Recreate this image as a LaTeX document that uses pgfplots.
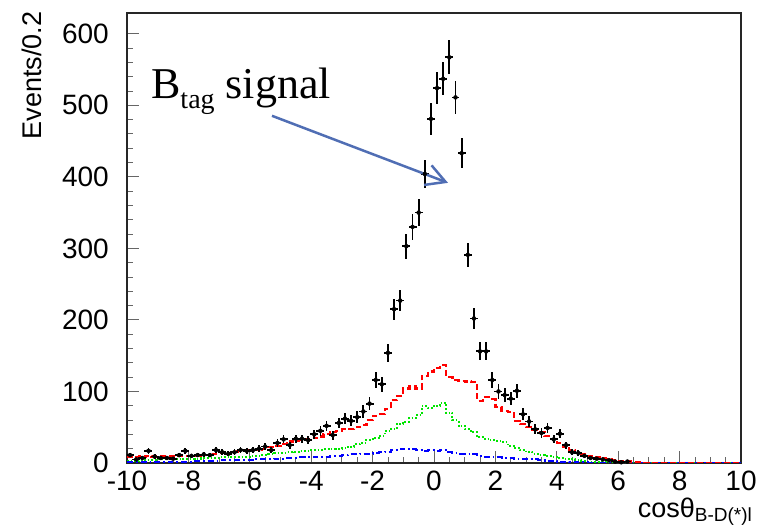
\documentclass[border=0pt]{standalone}
\usepackage{fontspec}
\setmainfont{Liberation Sans}
\newfontfamily\annfont{Liberation Serif}
\usepackage{pgfplots}
\pgfplotsset{compat=1.18}
\usepackage{pgfplotstable}
\usetikzlibrary{arrows.meta}
\definecolor{arrowblue}{RGB}{80,110,180}

\pgfplotstableread{
x y e
-9.9 11 3.3
-9.7 5 2.2
-9.5 7 2.6
-9.3 17 4.1
-9.1 9 3.0
-8.9 7 2.6
-8.7 7 2.6
-8.5 6 2.4
-8.3 11 3.3
-8.1 17 4.1
-7.9 10 3.2
-7.7 11 3.3
-7.5 12 3.5
-7.3 11 3.3
-7.1 18 4.2
-6.9 15 3.9
-6.7 13 3.6
-6.5 15 3.9
-6.3 18 4.2
-6.1 17 4.1
-5.9 18 4.2
-5.7 20 4.5
-5.5 23 4.8
-5.3 18 4.2
-5.1 28 5.3
-4.9 33 5.7
-4.7 25 5.0
-4.5 34 5.8
-4.3 34 5.8
-4.1 32 5.7
-3.9 40 6.3
-3.7 45 6.7
-3.5 52 7.2
-3.3 39 6.2
-3.1 56 7.5
-2.9 62 7.9
-2.7 59 7.7
-2.5 64 8.0
-2.3 72 8.5
-2.1 83 9.1
-1.9 116 10.8
-1.7 110 10.5
-1.5 154 12.4
-1.3 215 14.7
-1.1 227 15.1
-0.9 303 17.4
-0.7 330 18.2
-0.5 350 18.7
-0.3 404 20.1
-0.1 481 21.9
0.1 524 22.9
0.3 537 23.2
0.5 567 23.8
0.7 511 22.6
0.9 433 20.8
1.1 291 17.1
1.3 202 14.2
1.5 156 12.5
1.7 156 12.5
1.9 116 10.8
2.1 100 10.0
2.3 95 9.7
2.5 90 9.5
2.7 101 10.0
2.9 68 8.2
3.1 58 7.6
3.3 47 6.9
3.5 42 6.5
3.7 49 7.0
3.9 33 5.7
4.1 41 6.4
4.3 25 5.0
4.5 15 3.9
4.7 14 3.7
4.9 10 3.2
5.1 7 2.6
5.3 6 2.4
5.5 5 2.2
5.7 4 2.0
5.9 2 1.4
6.1 1 1.0
6.3 2 1.4
}\datatable

\pgfplotstableread{
x y
-10.0 9
-9.8 8
-9.6 9
-9.4 10
-9.2 9
-9.0 9
-8.8 9
-8.6 9
-8.4 10
-8.2 10
-8.0 10
-7.8 10
-7.6 11
-7.4 11
-7.2 13
-7.0 14
-6.8 14
-6.6 15
-6.4 17
-6.2 18
-6.0 18
-5.8 19
-5.6 20
-5.4 22
-5.2 24
-5.0 27
-4.8 30
-4.6 31
-4.4 32
-4.2 34
-4.0 35
-3.8 37
-3.6 40
-3.4 43
-3.2 45
-3.0 47
-2.8 48
-2.6 50
-2.4 53
-2.2 60
-2.0 66
-1.8 68
-1.6 76
-1.4 88
-1.2 94
-1.0 104
-0.8 107
-0.6 104
-0.4 122
-0.2 128
0.0 133
0.2 137
0.4 120
0.6 116
0.8 115
1.0 114
1.2 113
1.4 87
1.6 92
1.8 90
2.0 78
2.2 73
2.4 71
2.6 59
2.8 54
3.0 50
3.2 46
3.4 43
3.6 38
3.8 34
4.0 28
4.2 23
4.4 18
4.6 14
4.8 12
5.0 10
5.2 8
5.4 7
5.6 6
5.8 4
6.0 2
6.2 2
6.4 1
6.6 1
6.8 0.5
7.0 0.5
8.0 0.5
9.0 0.5
10.0 0.5
}\redtable

\pgfplotstableread{
x y
-10.0 3
-9.8 3
-9.6 4
-9.4 4
-9.2 4
-9.0 5
-8.8 5
-8.6 5
-8.4 5
-8.2 6
-8.0 6
-7.8 6
-7.6 7
-7.4 7
-7.2 7
-7.0 8
-6.8 8
-6.6 9
-6.4 9
-6.2 9
-6.0 10
-5.8 10
-5.6 11
-5.4 12
-5.2 14
-5.0 14
-4.8 15
-4.6 16
-4.4 17
-4.2 17
-4.0 18
-3.8 18
-3.6 19
-3.4 20
-3.2 20
-3.0 21
-2.8 23
-2.6 26
-2.4 28
-2.2 32
-2.0 35
-1.8 38
-1.6 45
-1.4 48
-1.2 55
-1.0 58
-0.8 63
-0.6 67
-0.4 79
-0.2 77
0.0 80
0.2 84
0.4 70
0.6 60
0.8 52
1.0 47
1.2 43
1.4 36
1.6 34
1.8 32
2.0 31
2.2 29
2.4 24
2.6 21
2.8 18
3.0 15
3.2 13
3.4 11
3.6 10
3.8 9
4.0 7
4.2 6
4.4 5
4.6 4
4.8 3
5.0 2
5.2 2
5.4 1.5
5.6 1
5.8 1
6.0 0.5
7.0 0.5
8.0 0.5
9.0 0.5
10.0 0.5
}\greentable

\pgfplotstableread{
x y
-10.0 1.5
-9.0 1.5
-8.6 2
-8.0 2
-7.8 2.5
-7.6 3
-7.4 3
-7.2 3
-7.0 3.5
-6.8 4
-6.6 4
-6.4 4
-6.2 4
-6.0 4
-5.8 5
-5.6 5
-5.4 5
-5.2 6
-5.0 6
-4.8 7
-4.6 7
-4.4 8
-4.2 8
-4.0 8
-3.8 9
-3.6 9
-3.4 10
-3.2 10
-3.0 11
-2.8 12
-2.6 12
-2.4 13
-2.2 13
-2.0 14
-1.8 15
-1.6 16
-1.4 18
-1.2 19
-1.0 20
-0.8 19
-0.6 18
-0.4 17
-0.2 18
0.0 17
0.2 18
0.4 15
0.6 14
0.8 13
1.0 13
1.2 12
1.4 10
1.6 9
1.8 9
2.0 8
2.2 7
2.4 7
2.6 6
2.8 6
3.0 5
3.2 5
3.4 4
3.6 3
3.8 3
4.0 2
4.2 2
4.4 1.5
4.6 1
4.8 1
5.0 0.5
6.0 0.3
7.0 0.3
8.0 0.3
9.0 0.3
10.0 0.3
}\bluetable

\begin{document}
\begin{tikzpicture}
\useasboundingbox (-127pt,-63pt) rectangle (632pt,463pt);
\begin{axis}[
  at={(0,0)}, anchor=south west,
  scale only axis, width=614pt, height=450pt,
  xmin=-10, xmax=10, ymin=0, ymax=629,
  xtick={-10,-8,...,10}, minor x tick num=3,
  ytick={0,100,...,600}, minor y tick num=4,
  tick align=inside, xtick pos=bottom, ytick pos=left,
  major tick length=12pt, minor tick length=6pt,
  axis line style={line width=1.5pt, black!85},
  tick style={line width=0.9pt, black!60},
  ticklabel style={font=\fontsize{28}{28}\selectfont, inner sep=1pt},
  yticklabel style={xshift=-17pt},
  xticklabel style={yshift=-7pt},
  /pgf/number format/assume math mode=true,
  xlabel={cosθ\raisebox{-0.25ex}{\fontsize{19}{19}\selectfont B-D(*)l}},
  xlabel style={font=\fontsize{27}{27}\selectfont, at={(axis description cs:1.018,-0.122)}, anchor=base east, inner sep=0pt},
  ylabel={Events/0.2},
  ylabel style={font=\fontsize{27}{27}\selectfont, at={(axis description cs:-0.155,1.003)}, anchor=east, inner sep=0pt},
]
\addplot[const plot mark left, green!90!black, line width=2pt, dash pattern=on 1.6pt off 2pt] table[x=x,y=y] {\greentable};
\addplot[const plot mark left, blue, line width=2pt, dash pattern=on 6pt off 3pt on 1.6pt off 3pt] table[x=x,y=y] {\bluetable};
\addplot[const plot mark left, red, line width=2.2pt, dash pattern=on 6pt off 3pt] table[x=x,y=y] {\redtable};
\addplot[only marks, mark=none,
  error bars/.cd, y dir=both, y explicit, x dir=both, x fixed=0.13,
  error mark=none, error bar style={draw=black, line width=1.8pt, solid}]
  table[x=x,y=y,y error=e] {\datatable};
\node[anchor=base west, inner sep=0pt, font=\annfont\fontsize{44}{44}\selectfont] at (axis cs:-9.22,509) {B\raisebox{-10pt}{\fontsize{28}{28}\selectfont tag} signal};
\draw[arrowblue, line width=2.5pt, -{Straight Barb[length=19pt,width=21pt,line width=2.5pt]}] (axis cs:-5.277,485.3) -- (axis cs:0.456,391.6);
\end{axis}
\end{tikzpicture}
\end{document}
